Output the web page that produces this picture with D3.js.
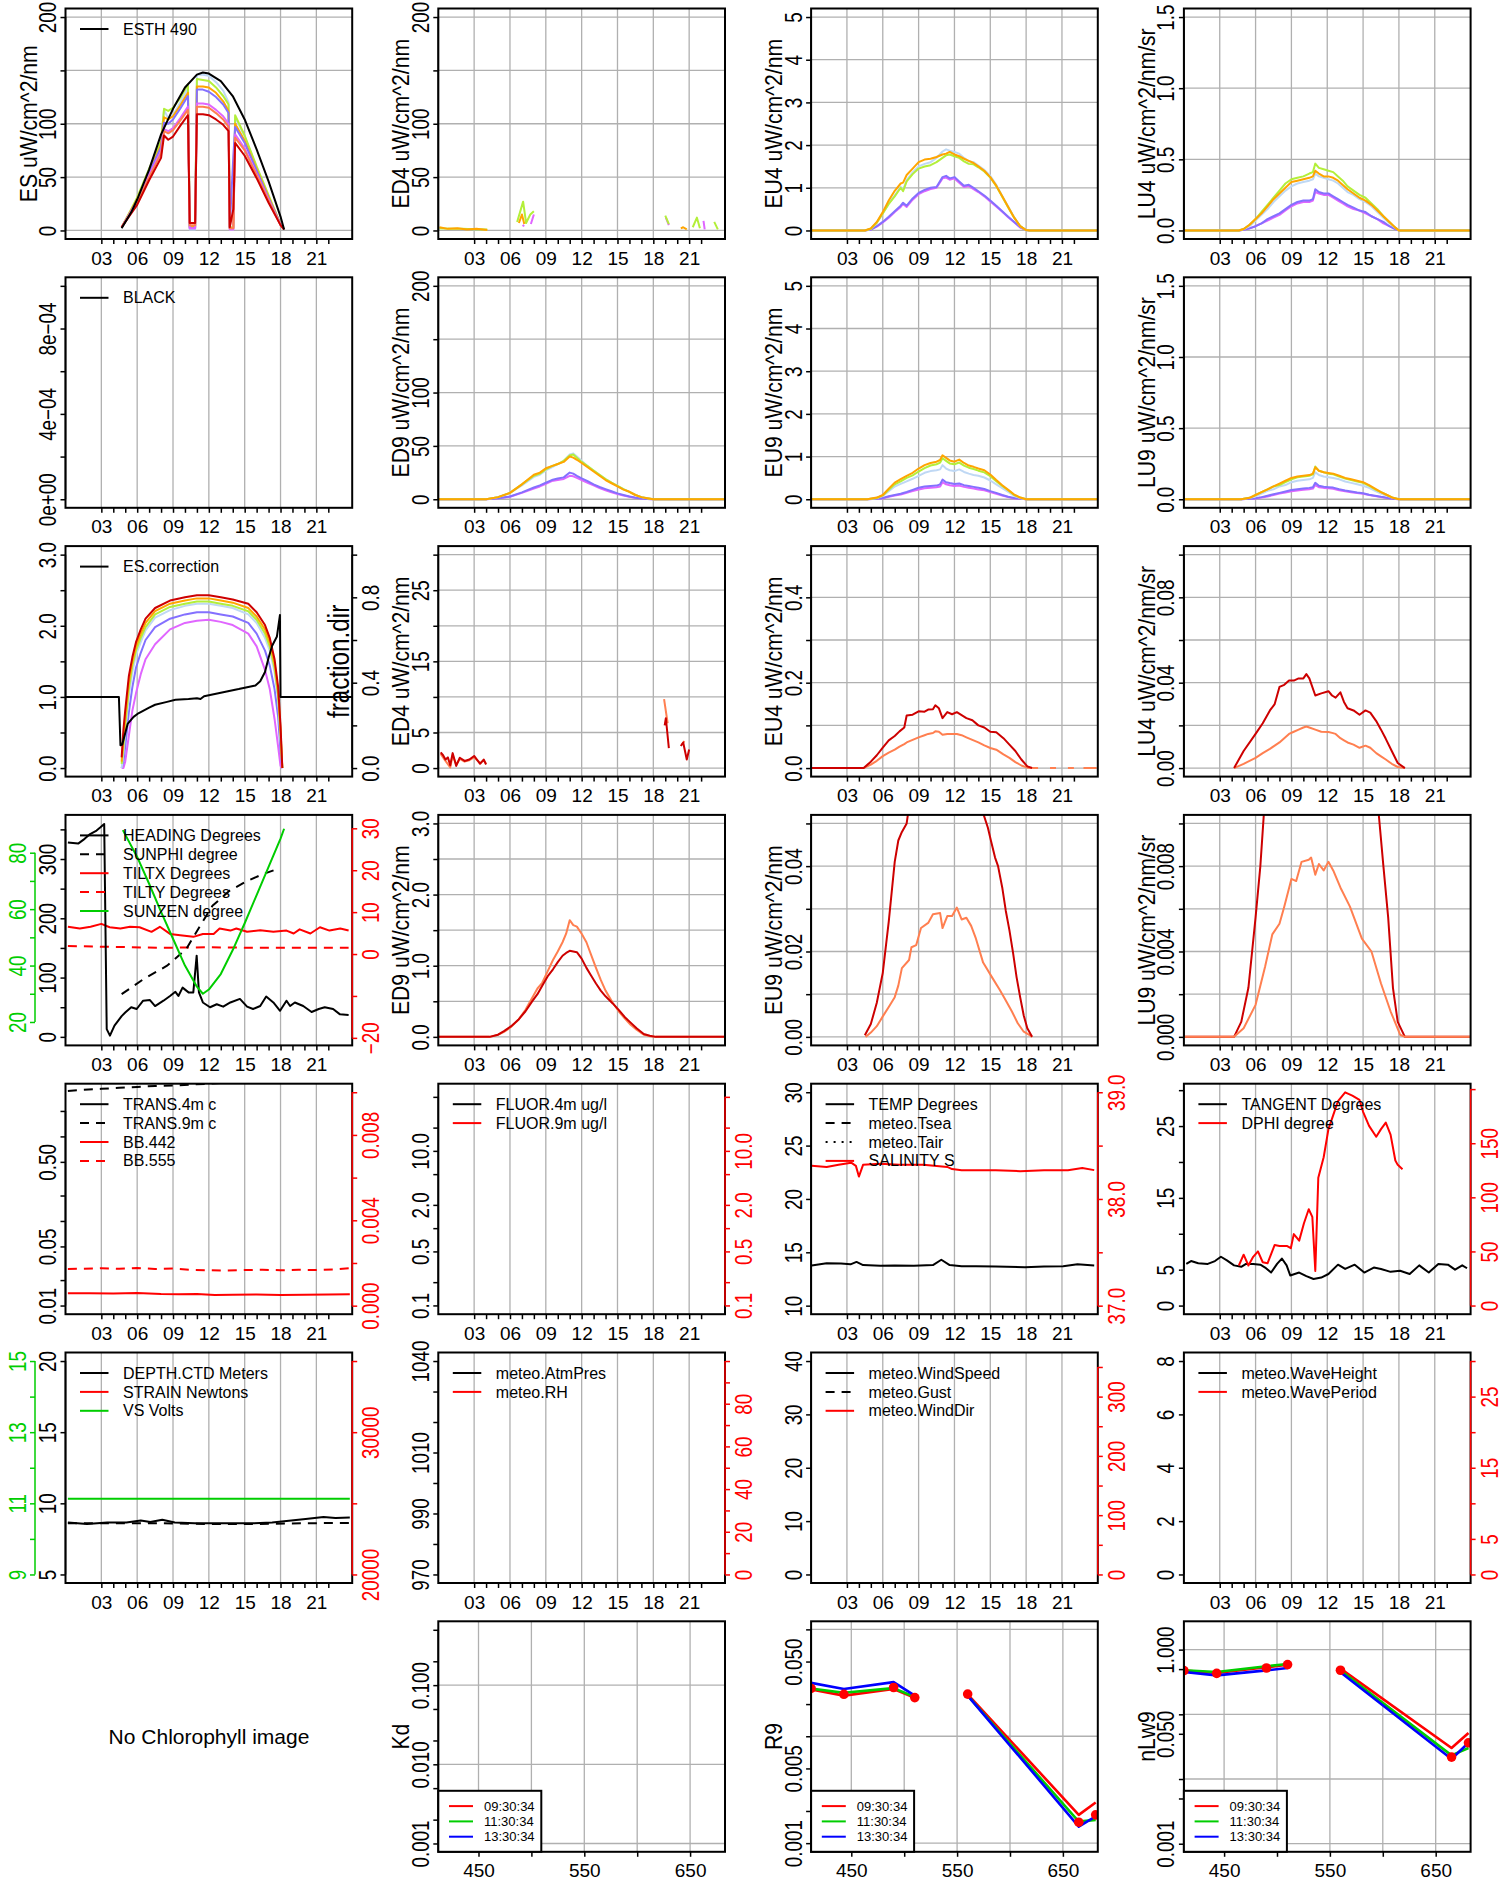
<!DOCTYPE html>
<html><head><meta charset="utf-8">
<script src="https://cdn.jsdelivr.net/npm/d3@7"></script>
<style>
html,body{margin:0;padding:0;background:#fff;}
svg{display:block;font-family:"Liberation Sans",Arial,Helvetica,sans-serif;}
</style></head><body>
<svg id="c" width="1510" height="1882"></svg>
<script>
// ---------------- axis tick values / labels ----------------
const timeDomain = [0, 24];
const timeTicks = [3,4,5,6,7,8,9,10,11,12,13,14,15,16,17,18,19,20,21,22];
const timeTickLabels = ['03','','','06','','','09','','','12','','','15','','','18','','','21',''];
const timeGrid = [3,6,9,12,15,18,21];
const wlDomain = [412, 683];
const wlTicks = [450,500,550,600,650];
const wlTickLabels = ['450','','550','','650'];
const wlGrid = [450,500,550,600,650];

const es200Ticks = [0,50,100,150,200];
const es200Labels = ['0','50','100','','200'];
const e5Ticks = [0,1,2,3,4,5];
const e5Labels = ['0','1','2','3','4','5'];
const l15Ticks = [0,0.5,1,1.5];
const l15Labels = ['0.0','0.5','1.0','1.5'];
const blackTicks = [0,0.0002,0.0004,0.0006,0.0008,0.001];
const blackLabels = ['0e+00','','4e\u221204','','8e\u221204',''];
const corrTicks = [0,0.5,1,1.5,2,2.5,3];
const corrLabels = ['0.0','','1.0','','2.0','','3.0'];
const fdirTicks = [0,0.2,0.4,0.6,0.8,1.0];
const fdirLabels = ['0.0','','0.4','','0.8',''];
const ed4bTicks = [0,5,10,15,20,25,30];
const ed4bLabels = ['0','5','','15','','25',''];
const eu4bTicks = [0,0.1,0.2,0.3,0.4,0.5];
const eu4bLabels = ['0.0','','0.2','','0.4',''];
const lu4bTicks = [0,0.02,0.04,0.06,0.08,0.1];
const lu4bLabels = ['0.00','','0.04','','0.08',''];
const headTicks = [0,50,100,150,200,250,300,350];
const headLabels = ['0','','100','','200','','300',''];
const tiltTicks = [-20,-10,0,10,20,30];
const tiltLabels = ['\u221220','','0','10','20','30'];
const zenTicks = [20,30,40,50,60,70,80];
const zenLabels = ['20','','40','','60','','80'];
const ed9bTicks = [0,0.5,1,1.5,2,2.5,3];
const ed9bLabels = ['0.0','','1.0','','2.0','','3.0'];
const eu9bTicks = [0,0.01,0.02,0.03,0.04,0.05];
const eu9bLabels = ['0.00','','0.02','','0.04',''];
const lu9bTicks = [0,0.002,0.004,0.006,0.008,0.01];
const lu9bLabels = ['0.000','','0.004','','0.008',''];
const transTicks = [0.01,0.02,0.05,0.1,0.2,0.5,1,2];
const transLabels = ['0.01','','0.05','','','0.50','',''];
const bbTicks = [0,0.002,0.004,0.006,0.008,0.01];
const bbLabels = ['0.000','','0.004','','0.008',''];
const fluorTicks = [0.1,0.2,0.5,1,2,5,10,20,50];
const fluorLabels = ['0.1','','0.5','','2.0','','10.0','',''];
const tempTicks = [10,15,20,25,30];
const tempLabels = ['10','15','20','25','30'];
const salTicks = [37,37.5,38,38.5,39];
const salLabels = ['37.0','','38.0','','39.0'];
const tangTicks = [0,5,10,15,20,25,30];
const tangLabels = ['0','5','','15','','25',''];
const dphiTicks = [0,50,100,150,200];
const dphiLabels = ['0','50','100','150',''];
const depthTicks = [5,10,15,20];
const depthLabels = ['5','10','15','20'];
const vsTicks = [9,10,11,12,13,14,15];
const vsLabels = ['9','','11','','13','','15'];
const strainTicks = [20000,25000,30000,35000];
const strainLabels = ['20000','','30000',''];
const presTicks = [970,980,990,1000,1010,1020,1030,1040];
const presLabels = ['970','','990','','1010','','','1040'];
const rhTicks = [0,10,20,30,40,50,60,70,80,90,100];
const rhLabels = ['0','','20','','40','','60','','80','',''];
const windTicks = [0,10,20,30,40];
const windLabels = ['0','10','20','30','40'];
const wdirTicks = [0,50,100,150,200,250,300,350];
const wdirLabels = ['0','','100','','200','','300',''];
const waveTicks = [0,2,4,6,8];
const waveLabels = ['0','2','4','6','8'];
const perTicks = [0,5,10,15,20,25,30];
const perLabels = ['0','5','','15','','25',''];
const kdTicks = [0.001,0.002,0.005,0.01,0.02,0.05,0.1,0.2,0.5];
const kdLabels = ['0.001','','','0.010','','','0.100','',''];
const r9Ticks = [0.001,0.002,0.005,0.01,0.02,0.05,0.1];
const r9Labels = ['0.001','','0.005','','','0.050',''];
const nlwTicks = [0.001,0.005,0.01,0.05,0.1,0.5,1];
const nlwLabels = ['0.001','','','0.050','','','1.000'];
const decadeGrid = [0.001,0.01,0.1,1];

// ---------------- series values ----------------
// Row 1: ES
const esT = [4.7,5.5,6,7,8,8.25,8.6,9,9.6,10.25,10.4,10.85,11.0,11.5,12,12.6,13.2,13.65,13.75,14.05,14.2,15,16,17,18,18.3];
const esLightblue = [3,19,30,56,82,113,105,108,120,133,1,1,146,146,145,139,131,120,1,1,106,88,59,32,6,1];
const esGreen = [3,20,31,58,84,114,112,115,124,137,4,4,142,141,140,134,126,118,3,3,108,89,60,33,6,1];
const esOrange = [3,19,29,55,80,106,104,107,117,129,3,3,135,135,134,129,121,112,2,2,100,84,57,31,6,1];
const esSlate = [3,18,28,54,78,101,100,104,114,126,2,2,132,132,130,125,118,110,2,70,97,82,56,30,6,1];
const esViolet = [3,18,27,52,74,95,93,96,105,116,2,2,119,119,118,113,107,100,1,1,90,77,53,29,5,1];
const esCoral = [3,17,26,50,72,93,91,94,103,113,5,5,116,116,115,110,104,97,2,2,87,75,52,28,5,1];
const esRed = [3,16,24,47,68,89,85,88,98,108,7,7,109,109,108,104,99,93,3,20,82,70,49,26,5,1];
const esthT = [4.7,5.5,6,7,8,9,10,11,11.5,12,13,14,15,16,17,18,18.3];
const esthV = [2,17,29,57,90,114,134,146,148,147,140,126,104,76,46,13,1];

// ED4 (4m, row 1)
const ed4GreenT = [0.1,1.0,2.0,3.0,4.1,4.2,6.6,7.1,7.35,7.7,8.0,8.1,19.0,19.3,19.4,21.3,21.65,21.9,22.0,23.1,23.4];
const ed4GreenV = [2,1.5,1.5,1.2,1.0,null,8,27,7,15,18,null,14,6,null,3,12,2,null,8,1];
const ed4OrangeT = [0.1,0.8,1.6,2.4,3.2,4.1,4.2,6.75,7.0,7.2,7.3,20.3,20.5,20.8];
const ed4OrangeV = [3,1.5,2,1,1.5,0.5,null,7,15,6,null,2,3,1];
const ed4VioletT = [7.05,7.2,7.3,7.75,8.0,8.1,19.05,19.3,19.4,22.2,22.3];
const ed4VioletV = [4,5,null,6,15,null,12,5,null,9,1];

// EU4 (row 1)
const eu4T = [0,4.5,5,5.5,6,6.5,7,7.5,7.7,8,8.5,9,9.5,10,10.5,11,11.3,11.6,12,12.4,12.8,13.2,13.6,14,14.5,15,15.5,16,16.5,17,17.5,18,18.3,24];
const eu4Orange = [0,0,0.05,0.2,0.43,0.7,0.93,1.1,1.12,1.3,1.45,1.6,1.66,1.68,1.72,1.78,1.8,1.84,1.78,1.74,1.68,1.63,1.58,1.5,1.4,1.25,1.05,0.8,0.55,0.3,0.1,0.01,0,0];
const eu4Green = [0,0,0.04,0.18,0.4,0.62,0.8,1.0,0.92,1.15,1.32,1.45,1.5,1.53,1.6,1.7,1.76,1.78,1.74,1.7,1.62,1.56,1.55,1.48,1.38,1.24,1.04,0.79,0.54,0.3,0.1,0.01,0,0];
const eu4Lightblue = [0,0,0.04,0.18,0.4,0.63,0.82,1.02,0.95,1.18,1.36,1.5,1.56,1.6,1.7,1.85,1.9,1.87,1.84,1.8,1.7,1.62,1.6,1.52,1.42,1.28,1.07,0.81,0.56,0.31,0.1,0.01,0,0];
const eu4Slate = [0,0,0.02,0.1,0.2,0.32,0.45,0.58,0.65,0.58,0.75,0.88,0.95,1.0,1.02,1.25,1.28,1.22,1.25,1.15,1.05,1.07,1.0,0.92,0.82,0.7,0.58,0.45,0.32,0.2,0.08,0.01,0,0];
const eu4Violet = [0,0,0.02,0.09,0.19,0.3,0.43,0.55,0.62,0.55,0.72,0.85,0.92,0.97,1.0,1.22,1.24,1.19,1.22,1.12,1.02,1.04,0.97,0.9,0.8,0.68,0.56,0.44,0.31,0.19,0.07,0.01,0,0];

// LU4 (row 1)
const lu4T = [0,4.6,5,5.5,6,6.5,7,7.5,8,8.5,9,9.5,10,10.5,10.8,11.0,11.3,11.7,12.1,12.5,12.9,13.3,13.7,14.2,14.7,15.2,15.7,16.2,16.7,17.2,17.7,18.0,24];
const lu4Green = [0,0,0.01,0.04,0.08,0.13,0.18,0.23,0.28,0.33,0.36,0.37,0.38,0.4,0.41,0.47,0.44,0.43,0.42,0.41,0.38,0.35,0.31,0.28,0.25,0.23,0.19,0.15,0.1,0.06,0.02,0,0];
const lu4Orange = [0,0,0.01,0.04,0.08,0.12,0.17,0.22,0.26,0.3,0.34,0.35,0.36,0.37,0.38,0.42,0.4,0.38,0.38,0.37,0.35,0.32,0.29,0.26,0.23,0.21,0.18,0.14,0.1,0.06,0.02,0,0];
const lu4Lightblue = [0,0,0.01,0.03,0.07,0.11,0.15,0.2,0.24,0.28,0.31,0.33,0.34,0.35,0.36,0.4,0.38,0.37,0.36,0.35,0.33,0.3,0.27,0.25,0.22,0.2,0.17,0.13,0.09,0.05,0.02,0,0];
const lu4Slate = [0,0,0.005,0.015,0.03,0.05,0.08,0.1,0.12,0.15,0.18,0.2,0.21,0.21,0.22,0.29,0.27,0.26,0.26,0.24,0.22,0.2,0.18,0.16,0.14,0.13,0.1,0.08,0.06,0.03,0.01,0,0];
const lu4Violet = [0,0,0.005,0.015,0.03,0.05,0.07,0.09,0.11,0.14,0.17,0.19,0.2,0.2,0.21,0.27,0.26,0.25,0.25,0.23,0.21,0.19,0.17,0.15,0.14,0.12,0.1,0.08,0.05,0.03,0.01,0,0];

// Row 2: ED9, EU9, LU9
const ed9T = [0,4,5,6,7,8,8.5,9,9.5,10,10.5,11,11.3,11.6,12,12.5,13,13.5,14,14.5,15,15.5,16,16.5,17,17.5,18,24];
const ed9Orange = [0,0,2,6,14,23,25,29,31,33,35,40,39,37,34,30,26,22,18,15,12,9,7,4,2,1,0,0];
const ed9Green = [0,0,2,6,14,22,24,28,31,33,36,41,42,39,35,31,27,23,19,15.5,12.5,9.5,7,4,2,1,0,0];
const ed9Lightblue = [0,0,2,6,13,21,23,27,30,33,36,42,43,40,36,31,27,23,19,15.5,12.5,9.5,7,4,2,1,0,0];
const ed9Slate = [0,0,1,2.6,6.5,11,13,15.5,18,19.5,20.5,25,24,22,19.5,17,14,11.5,9.5,7.5,5.5,4,2.6,1.5,0.8,0.3,0,0];
const ed9Violet = [0,0,1,2.4,6,10,12,14.5,17,18,19,22,21.5,20,18,15.5,13,10.5,8.5,6.5,5,3.5,2.4,1.4,0.7,0.3,0,0];

const eu9T = [0,4.7,5.5,6,6.5,7,7.5,8,8.5,9,9.5,10,10.5,10.8,11.0,11.3,11.6,12,12.4,12.8,13.2,13.6,14,14.5,15,15.5,16,16.5,17,17.5,18,24];
const eu9Orange = [0,0,0.04,0.1,0.25,0.39,0.47,0.55,0.62,0.72,0.8,0.85,0.88,0.92,1.03,0.97,0.91,0.88,0.93,0.85,0.79,0.76,0.72,0.68,0.58,0.45,0.33,0.22,0.11,0.04,0,0];
const eu9Green = [0,0,0.03,0.09,0.22,0.35,0.42,0.5,0.56,0.65,0.73,0.79,0.82,0.86,0.96,0.9,0.84,0.82,0.86,0.79,0.74,0.71,0.67,0.63,0.54,0.42,0.31,0.21,0.1,0.04,0,0];
const eu9Lightblue = [0,0,0.03,0.08,0.19,0.3,0.36,0.42,0.48,0.55,0.62,0.66,0.68,0.7,0.8,0.72,0.68,0.66,0.7,0.64,0.6,0.57,0.55,0.51,0.44,0.35,0.26,0.17,0.08,0.03,0,0];
const eu9Slate = [0,0,0.01,0.03,0.07,0.1,0.13,0.17,0.22,0.27,0.3,0.31,0.32,0.35,0.46,0.4,0.38,0.36,0.37,0.33,0.31,0.29,0.27,0.24,0.19,0.15,0.1,0.06,0.03,0.01,0,0];
const eu9Violet = [0,0,0.01,0.02,0.06,0.09,0.11,0.15,0.19,0.23,0.26,0.27,0.28,0.3,0.4,0.35,0.33,0.31,0.32,0.29,0.27,0.25,0.23,0.21,0.17,0.13,0.09,0.05,0.02,0.01,0,0];

const lu9T = [0,4.8,5.5,6,6.5,7,7.5,8,8.5,9,9.5,10,10.5,10.8,11.0,11.3,11.7,12.1,12.5,13,13.5,14,14.5,15,15.5,16,16.5,17,17.5,18,24];
const lu9Orange = [0,0,0.01,0.03,0.05,0.07,0.09,0.11,0.13,0.15,0.16,0.165,0.17,0.18,0.225,0.2,0.19,0.185,0.18,0.165,0.15,0.14,0.13,0.12,0.1,0.075,0.05,0.03,0.01,0,0];
const lu9Green = [0,0,0.01,0.03,0.05,0.07,0.09,0.1,0.12,0.14,0.155,0.16,0.165,0.175,0.23,0.2,0.19,0.18,0.175,0.16,0.145,0.135,0.125,0.115,0.095,0.07,0.05,0.03,0.01,0,0];
const lu9Lightblue = [0,0,0.01,0.02,0.04,0.06,0.07,0.09,0.1,0.12,0.13,0.135,0.14,0.15,0.19,0.17,0.16,0.155,0.15,0.14,0.125,0.115,0.105,0.095,0.08,0.06,0.04,0.025,0.01,0,0];
const lu9Slate = [0,0,0.003,0.007,0.015,0.025,0.035,0.045,0.055,0.065,0.07,0.075,0.08,0.085,0.116,0.095,0.088,0.085,0.082,0.07,0.062,0.055,0.048,0.042,0.032,0.025,0.017,0.01,0.004,0,0];
const lu9Violet = [0,0,0.003,0.006,0.012,0.02,0.03,0.04,0.048,0.056,0.062,0.066,0.07,0.075,0.1,0.085,0.08,0.077,0.074,0.064,0.056,0.05,0.044,0.038,0.03,0.022,0.015,0.009,0.004,0,0];

// Row 3: ES.correction and fraction.dir
const escorrT = [0,4.47,4.6,4.75,5.2,5.7,6.1,7.0,7.5,8.5,9.2,10.3,11.0,11.3,11.6,12.5,13.6,14.5,15.3,15.9,16.3,16.7,17.0,17.3,17.7,17.95,18.0,24];
const escorrV = [1.0,1.0,0.32,0.33,0.62,0.72,0.77,0.85,0.89,0.93,0.96,0.97,0.98,0.97,1.01,1.04,1.08,1.11,1.14,1.16,1.22,1.35,1.55,1.72,1.85,2.15,1.0,1.0];
const fdT = [4.7,4.85,5.0,5.3,5.6,5.9,6.3,6.7,7.5,8.75,10,11,12,13,14,15.3,16,16.7,17.1,17.5,17.8,18.0,18.15];
const fdRed = [0.05,0.18,0.27,0.43,0.52,0.59,0.65,0.70,0.75,0.785,0.80,0.81,0.81,0.80,0.79,0.77,0.73,0.67,0.61,0.51,0.38,0.2,0.0];
const fdOrange = [0.03,0.14,0.24,0.40,0.50,0.57,0.63,0.68,0.735,0.77,0.785,0.795,0.795,0.785,0.775,0.75,0.71,0.65,0.59,0.49,0.36,0.18,0.0];
const fdGreen = [0.02,0.1,0.2,0.37,0.48,0.55,0.61,0.66,0.72,0.755,0.77,0.78,0.78,0.77,0.76,0.735,0.695,0.63,0.57,0.47,0.34,0.16,0.0];
const fdLightblue = [0.0,0.07,0.17,0.34,0.45,0.53,0.59,0.645,0.705,0.74,0.76,0.77,0.77,0.76,0.75,0.72,0.68,0.61,0.55,0.45,0.32,0.14,0.0];
const fdSlate = [0.0,0.03,0.1,0.26,0.38,0.47,0.54,0.6,0.66,0.7,0.72,0.73,0.73,0.72,0.71,0.68,0.63,0.55,0.48,0.37,0.24,0.08,0.0];
const fdViolet = [0.0,0.0,0.03,0.15,0.27,0.35,0.44,0.51,0.58,0.65,0.68,0.69,0.695,0.685,0.67,0.63,0.57,0.46,0.37,0.23,0.1,0.01,0.0];

// Row 3: ED4 / EU4 / LU4 (9m)
const ed4bRedT = [0.2,0.4,0.6,0.8,1.0,1.2,1.5,1.8,2.2,2.6,3.0,3.5,3.8,4.0,4.1,18.95,19.05,19.3,19.4,20.3,20.5,20.8,21.0];
const ed4bRedV = [2.2,1.8,1.2,1.5,0.4,2.1,0.3,1.45,1.0,1.2,1.7,0.6,1.2,0.5,null,6.0,7.0,2.8,null,3.1,3.6,1.2,2.6];
const ed4bCoralT = [0.2,0.6,1.0,1.2,1.5,1.8,2.2,2.6,3.0,3.5,3.8,4.0,4.1,18.9,19.2,19.3,20.4,20.6];
const ed4bCoralV = [2.0,1.0,0.1,1.8,0.5,1.3,0.9,1.1,1.5,0.7,1.1,0.6,null,9.7,6.3,null,3.3,3.8];

const eu4bT = [0,4.4,5,5.5,6,6.5,7,7.4,7.8,8.0,8.5,9.0,9.5,9.8,10.2,10.4,10.7,11.0,11.4,11.8,12.2,12.6,13.0,13.5,14.0,14.5,15.0,15.5,16.1,16.6,17.1,17.6,18.1,18.5];
const eu4bRed = [0,0,0.015,0.03,0.048,0.065,0.075,0.086,0.095,0.123,0.125,0.133,0.132,0.137,0.138,0.147,0.14,0.117,0.131,0.126,0.131,0.124,0.117,0.112,0.10,0.095,0.085,0.084,0.07,0.055,0.04,0.02,0.004,0];
const eu4bCoral = [0,0,0.008,0.017,0.028,0.036,0.043,0.05,0.056,0.06,0.066,0.072,0.077,0.08,0.082,0.086,0.085,0.078,0.08,0.08,0.08,0.077,0.072,0.066,0.06,0.053,0.047,0.043,0.032,0.024,0.014,0.006,0.001,0];
const eu4bTailT = [18.5,19.0,19.1,20.0,20.5,20.6,21.5,22.0,22.1,22.8,23.9];
const eu4bTailV = [0,0,null,0,0,null,0,0,null,0,0];

const lu4bT = [4.2,5.0,6.0,6.6,7.2,7.6,8.0,8.4,8.8,9.2,9.6,10.0,10.25,10.5,11.0,11.5,12.1,12.4,12.7,13.1,13.4,13.7,14.2,14.7,15.2,15.6,16.1,16.5,16.9,17.4,17.9,18.5];
const lu4bRed = [0,0.008,0.016,0.021,0.027,0.03,0.038,0.039,0.041,0.041,0.042,0.042,0.044,0.042,0.034,0.035,0.036,0.034,0.033,0.0355,0.031,0.028,0.027,0.025,0.027,0.026,0.022,0.018,0.0137,0.008,0.0024,0];
const lu4bCoral = [0,0.002,0.0048,0.007,0.009,0.0105,0.012,0.014,0.016,0.017,0.018,0.019,0.0195,0.019,0.018,0.017,0.0169,0.0165,0.016,0.014,0.013,0.012,0.011,0.0095,0.0105,0.0095,0.007,0.0055,0.004,0.002,0.0005,0];

// Row 4: attitude
const headingT = [0.2,1.06,1.6,2.06,2.6,2.9,3.24,3.45,3.72,4.1,4.7,5.0,5.5,5.96,6.5,7.07,7.5,8.2,8.75,9.2,9.45,9.8,10.3,10.7,10.98,11.17,11.5,12.1,12.66,13.2,13.8,14.6,15.2,15.7,16.3,16.8,17.4,17.96,18.5,18.8,19.2,19.9,20.6,21.2,21.7,22.4,22.98,23.7];
const headingV = [328,326,334,342,348,353,359,13,2,19,35,41,50,47,61,62,52,61,69,76,69,83,75,75,137,75,58,50,55,51,58,64,51,47,52,68,58,44,61,52,58,52,42,47,50,47,38,37];
const sunphiT = [4.7,6.5,8.5,10.1,11.2,12.3,13.7,15.2,16.6,17.7];
const sunphiV = [72,97,120,148,185,221,246,263,275,283];
const tiltxT = [0.2,1.2,2.1,3.0,3.7,4.6,5.4,6.2,7.2,7.9,8.75,9.6,10.7,11.5,12.4,12.9,13.8,14.3,15.2,16.3,17.4,18.5,19.1,19.6,20.5,21.3,22.1,23.0,23.7];
const tiltxV = [6.5,6.1,6.5,7.2,6.4,6.1,6.5,6.4,5.3,6.5,4.8,4.5,4.1,4.8,4.8,6.1,5.6,6.1,5.3,5.7,5.3,5.6,4.9,5.9,4.9,6.4,5.6,6.1,5.6];
const tiltyT = [0.2,4.0,8.0,12.0,16.0,20.0,23.7];
const tiltyV = [1.9,1.7,1.5,1.6,1.5,1.5,1.5];
const sunzenT = [4.8,6,7,8,9,10,11,11.5,12,13,14,15,16,17,18,18.3];
const sunzenV = [88,78.5,69,59,49.5,40,32.5,30,31.5,37,45.5,55,65,75,85,88.5];

// Row 4: ED9 / EU9 / LU9 (9m)
const ed9bT = [0,4.3,5.0,5.5,6.1,6.7,7.3,7.9,8.3,8.7,9.15,9.6,10.0,10.4,10.7,11.0,11.3,11.6,12.0,12.4,12.8,13.2,13.6,14.0,14.6,15.1,15.6,16.1,16.6,17.2,17.7,18.2,24];
const ed9bCoral = [0,0,0.03,0.07,0.14,0.24,0.38,0.56,0.68,0.76,0.92,1.08,1.2,1.33,1.45,1.64,1.57,1.55,1.45,1.33,1.15,0.97,0.8,0.65,0.48,0.36,0.26,0.17,0.1,0.03,0.01,0,0];
const ed9bRed = [0,0,0.03,0.08,0.15,0.24,0.36,0.51,0.6,0.72,0.85,0.95,1.05,1.14,1.18,1.21,1.2,1.19,1.1,0.97,0.86,0.75,0.65,0.57,0.47,0.38,0.28,0.2,0.12,0.04,0.015,0,0];
const eu9bRedT = [4.5,5.0,5.5,6.0,6.5,7.0,7.3,7.6,8.0,8.1,9,10,11,12,13,14,14.45,14.8,15.05,15.4,15.65,16.0,16.3,16.6,16.9,17.2,17.5,17.8,18.1,18.5];
const eu9bRedV = [0.0004,0.003,0.008,0.015,0.027,0.041,0.046,0.048,0.050,0.052,0.07,0.085,0.09,0.088,0.075,0.06,0.052,0.049,0.046,0.042,0.040,0.035,0.0295,0.025,0.0198,0.014,0.0093,0.005,0.002,0];
const eu9bCoralT = [4.56,5.0,5.5,6.0,6.5,7.0,7.3,7.6,8.2,8.4,8.8,9.2,9.8,10.2,10.8,11.0,11.4,11.8,12.2,12.6,13.0,13.4,13.8,14.4,15.2,15.8,16.3,16.8,17.3,17.8,18.3,18.5];
const eu9bCoralV = [0,0.001,0.0025,0.0048,0.007,0.0093,0.012,0.0161,0.018,0.021,0.0215,0.0255,0.0267,0.0287,0.029,0.0255,0.0283,0.0283,0.0303,0.0275,0.0279,0.026,0.023,0.0174,0.0137,0.011,0.0085,0.006,0.0032,0.0012,0.0004,0];
const lu9bRedT = [0,4.2,4.8,5.4,6.0,6.4,6.7,7.5,9,11,13,15,16.0,16.3,16.7,17.1,17.5,17.9,18.5,24];
const lu9bRedV = [0,0,0.0007,0.0023,0.0056,0.008,0.0105,0.02,0.03,0.04,0.035,0.02,0.012,0.0105,0.008,0.0056,0.0023,0.0007,0,0];
const lu9bCoralT = [0,4.2,5.0,6.0,6.8,7.4,8.0,8.4,9.0,9.4,9.85,10.45,10.65,11.0,11.3,11.7,12.1,12.5,13.1,13.9,14.9,15.7,16.5,17.3,18.1,18.5,24];
const lu9bCoralV = [0,0,0.0004,0.0015,0.0033,0.0048,0.0053,0.0061,0.0074,0.0073,0.0082,0.0083,0.0084,0.0076,0.0081,0.0078,0.0082,0.0078,0.007,0.0061,0.0046,0.004,0.0025,0.0012,0.0001,0,0];

// Row 5
const trans9T = [0.2,1.5,3.0,4.5,6.0,7.5,9.0,10.5,12.0,16.0,20.0,24.0];
const trans9V = [3.45,3.55,3.65,3.75,3.85,3.95,4.0,4.1,4.2,4.5,4.6,4.7];
const bb442T = [0.2,2.0,4.0,6.0,8.0,9.5,11.0,12.5,14.0,16.0,18.0,20.0,22.0,23.8];
const bb442V = [0.00058,0.00058,0.00057,0.00059,0.00055,0.00054,0.00055,0.00050,0.00051,0.00052,0.00050,0.00051,0.00052,0.00054];
const bb555T = [0.2,1.5,3.0,4.5,6.0,7.5,9.0,10.5,12.0,13.5,15.0,16.5,18.0,19.5,21.0,22.5,23.8];
const bb555V = [0.00172,0.00173,0.00175,0.00173,0.00176,0.00172,0.00174,0.00168,0.00166,0.00165,0.00167,0.00168,0.00166,0.00168,0.00167,0.0017,0.00176];
const tempT = [0.05,1.3,2.5,3.3,3.8,4.35,5.8,7.0,8.6,10.2,10.9,11.6,12.6,13.8,15.45,17.9,19.5,21.1,22.3,23.7];
const tempV = [13.77,13.97,13.94,13.87,14.1,13.8,13.74,13.77,13.74,13.8,14.3,13.8,13.7,13.7,13.68,13.6,13.68,13.7,13.87,13.77];
const salT = [0.05,1.3,2.3,3.35,3.75,4.0,4.35,5.8,7.4,9.4,11.4,11.8,12.6,13.8,15.45,17.5,19.5,21.5,22.7,23.7];
const salV = [38.31,38.3,38.32,38.34,38.31,38.21,38.32,38.33,38.32,38.32,38.3,38.28,38.27,38.27,38.27,38.26,38.27,38.27,38.29,38.27];
const tangT = [0.2,0.6,1.2,2.0,2.6,3.1,3.6,4.2,4.8,5.2,5.8,6.4,6.8,7.3,7.8,8.2,8.6,8.9,9.65,10.25,10.85,11.5,12.1,12.9,13.5,14.3,15.1,15.9,16.5,17.3,18.1,18.9,19.7,20.5,21.3,22.1,22.7,23.3,23.7];
const tangV = [5.8,6.2,5.9,5.8,6.2,6.8,6.3,5.6,5.4,5.8,5.8,5.7,5.3,4.6,5.8,6.55,5.6,4.2,4.6,4.1,3.7,3.9,4.4,5.7,5.1,5.7,4.6,5.3,5.1,4.7,4.85,4.4,5.6,4.6,5.8,5.7,5.0,5.6,5.2];
const dphiT = [4.6,5.0,5.4,5.8,6.2,6.6,7.0,7.6,8.0,8.65,8.95,9.2,9.65,10.05,10.45,10.75,11.0,11.25,11.7,12.1,12.5,12.9,13.5,14.1,14.7,15.0,15.5,16.1,16.5,16.9,17.3,17.7,17.9,18.3];
const dphiV = [37,47,37,45,50,40,39,56,55,55,53,66,60,76,89,82,32,118,137,163,176,189,197,194,190,179,166,156,163,169,158,134,130,126];

// Row 6
const depthT = [0.2,1.8,3.5,5.1,6.3,7.1,8.1,9.15,10.8,12.4,14.0,15.7,17.3,18.9,20.1,21.6,22.6,23.8];
const depthV = [8.65,8.55,8.65,8.65,8.8,8.68,8.85,8.65,8.6,8.6,8.6,8.6,8.65,8.8,8.9,9.04,8.97,9.0];
const depth2T = [0.2,4.0,8.0,12.0,16.0,20.0,23.8];
const depth2V = [8.6,8.6,8.6,8.55,8.55,8.6,8.62];
const vsT = [0.2,12.0,23.8];
const vsV = [11.13,11.13,11.13];

// Row 7: spectra
const wlBands = [412,443,490,510,531,560,665,681];
const r9Red = [0.0274,0.024,0.0277,0.0229,null,0.0247,0.00184,0.0024];
const r9Green = [0.0279,0.0255,0.0282,0.0233,null,0.024,0.00159,0.00165];
const r9Blue = [0.0316,0.0277,0.0321,0.024,null,0.024,0.00143,0.00178];
const r9Dots = [0.028,0.0247,0.0286,0.023,null,0.0248,0.00157,0.00184];
const nlwRed = [0.473,0.436,0.533,0.587,null,0.508,0.0302,0.0516];
const nlwGreen = [0.48,0.452,0.552,0.60,null,0.473,0.0232,0.0302];
const nlwBlue = [0.452,0.40,0.478,0.521,null,0.446,0.0204,0.0363];
const nlwDots = [0.473,0.43,0.52,0.587,null,0.48,0.0218,0.0363];
const timeStamps = ['09:30:34','11:30:34','13:30:34'];

// ---------------- drawing ----------------
const COL = {lightblue:'#bfd8f4', green:'#b3ef3a', orange:'#ffa500', slate:'#8470ff', violet:'#e066ff',
  coral:'#ff7f50', red3:'#cd0000', red:'#ff0000', green3:'#00cd00', blue:'#0000ff', black:'#000000'};
const svg = d3.select('#c');
svg.append('rect').attr('width',1510).attr('height',1882).attr('fill','#fff');
const PW = 286.7, PH = 230.5;
const colX = c => 65.5 + c*372.8;
const rowY = r => 8.5 + r*268.8;
const FS_TICK = 23, NARROW = 0.82, FS_X = 19, FS_TITLE = 23, N_TITLE = 0.92, FS_LEG = 16;
const GRID = '#b0b0b0';
const DASH = '9,7';
const pts = (xs, ys) => xs.map((x,i) => [x, ys[i]]);
let clipN = 0;

function yAxis(g, scale, ticks, labels, side, color, xoff){
  const ax = (side === 'left' ? d3.axisLeft(scale) : d3.axisRight(scale))
    .tickValues(ticks).tickSizeInner(5).tickSizeOuter(0).tickFormat((d,i) => labels[i]);
  const a = g.append('g').attr('transform', `translate(${xoff},0)`).call(ax)
    .attr('font-size', null).attr('font-family', null);
  a.select('.domain').attr('d', `M0,${scale(ticks[0])}V${scale(ticks[ticks.length-1])}`)
    .attr('stroke', color).attr('stroke-width', 1.5);
  a.selectAll('.tick line').attr('stroke', color).attr('stroke-width', 1.5);
  a.selectAll('.tick text').attr('x', 0).attr('dy', null).attr('y', side === 'left' ? -9.5 : 27)
    .attr('text-anchor', 'middle').attr('transform', `rotate(-90) scale(${NARROW},1)`)
    .attr('fill', color).style('font-size', FS_TICK + 'px');
}
function xAxis(g, scale, ticks, labels){
  const a = g.append('g').attr('transform', `translate(0,${PH})`)
    .call(d3.axisBottom(scale).tickValues(ticks).tickSizeInner(5).tickSizeOuter(0).tickFormat((d,i) => labels[i]))
    .attr('font-size', null).attr('font-family', null);
  a.select('.domain').remove();
  a.selectAll('.tick line').attr('stroke', '#000').attr('stroke-width', 1.5);
  a.selectAll('.tick text').attr('y', 25.5).attr('dy', null).attr('fill', '#000').style('font-size', FS_X + 'px');
}
function legend(g, items){
  items.forEach((it, i) => {
    const y = 20.5 + i*18.9;
    g.append('line').attr('x1', 14.5).attr('x2', 43).attr('y1', y).attr('y2', y)
      .attr('stroke', it.color).attr('stroke-width', 2).attr('stroke-dasharray', it.dash || null);
    g.append('text').attr('x', 57.5).attr('y', y).attr('dy', '0.35em').style('font-size', FS_LEG + 'px').text(it.label);
  });
}
function boxLegend(g, labels, colors){
  g.append('rect').attr('x', 0).attr('y', PH - 61).attr('width', 103).attr('height', 61)
    .attr('fill', '#fff').attr('stroke', '#000').attr('stroke-width', 2);
  labels.forEach((l, i) => {
    const y = PH - 45.7 + i*15.3;
    g.append('line').attr('x1', 10.7).attr('x2', 34.7).attr('y1', y).attr('y2', y).attr('stroke', colors[i]).attr('stroke-width', 2);
    g.append('text').attr('x', 45.7).attr('y', y).attr('dy', '0.35em').style('font-size', '13px').text(l);
  });
}

function panel(o){
  const g = svg.append('g').attr('transform', `translate(${colX(o.c)},${rowY(o.r)})`);
  const xs = d3.scaleLinear().domain(o.wl ? wlDomain : timeDomain).range([0, PW]);
  const mk = ax => ax ? (ax.log ? d3.scaleLog() : d3.scaleLinear()).domain(ax.domain).range([PH, 0]) : null;
  const sc = {left: mk(o.left), right: mk(o.right), green: mk(o.green)};
  // grid
  g.append('g').selectAll('line').data(o.wl ? wlGrid : timeGrid).join('line')
    .attr('x1', d => xs(d)).attr('x2', d => xs(d)).attr('y1', 0).attr('y2', PH)
    .attr('stroke', GRID).attr('stroke-width', 1.3);
  if (o.left.grid) g.append('g').selectAll('line').data(o.left.grid).join('line')
    .attr('x1', 0).attr('x2', PW).attr('y1', d => sc.left(d)).attr('y2', d => sc.left(d))
    .attr('stroke', GRID).attr('stroke-width', 1.3);
  // data
  const id = 'clip' + (clipN++);
  g.append('clipPath').attr('id', id).append('rect').attr('width', PW).attr('height', PH);
  const dg = g.append('g').attr('clip-path', `url(#${id})`);
  (o.series || []).forEach(s => {
    const ys = sc[s.axis || 'left'];
    const line = d3.line().defined(d => d[1] != null).x(d => xs(d[0])).y(d => ys(d[1]));
    if (!s.dotsOnly) dg.append('path').attr('d', line(s.data)).attr('fill', 'none').attr('stroke', s.color)
      .attr('stroke-width', s.w || 2).attr('stroke-dasharray', s.dash || null).attr('stroke-linejoin', 'round');
    if (s.dots) dg.append('g').selectAll('circle').data(s.data.filter(d => d[1] != null)).join('circle')
      .attr('cx', d => xs(d[0])).attr('cy', d => ys(d[1])).attr('r', 4.8).attr('fill', s.color);
  });
  // frame
  g.append('rect').attr('width', PW).attr('height', PH).attr('fill', 'none').attr('stroke', '#000').attr('stroke-width', 2);
  // axes
  xAxis(g, xs, o.wl ? wlTicks : timeTicks, o.wl ? wlTickLabels : timeTickLabels);
  yAxis(g, sc.left, o.left.ticks, o.left.labels, 'left', o.left.color || '#000', 0);
  if (o.right) yAxis(g, sc.right, o.right.ticks, o.right.labels, 'right', o.right.color || '#000', PW);
  if (o.green) yAxis(g, sc.green, o.green.ticks, o.green.labels, 'left', COL.green3, 35 - colX(0));
  if (o.title) g.append('text').attr('transform', `translate(-29,${PH/2}) rotate(-90) scale(${N_TITLE},1)`)
    .attr('text-anchor', 'middle').style('font-size', FS_TITLE + 'px').text(o.title);
  if (o.rightTitle) g.append('text').attr('transform', `translate(${PW - 3},${PH/2}) rotate(-90) scale(0.81,1)`)
    .attr('text-anchor', 'middle').style('font-size', '30px').text(o.rightTitle);
  if (o.legend) legend(g, o.legend);
  if (o.boxLegend) boxLegend(g, timeStamps, [COL.red, COL.green3, COL.blue]);
}

const five = (t, a, b, c, d, e) => [
  {data: pts(t, e), color: COL.violet}, {data: pts(t, d), color: COL.slate},
  {data: pts(t, a), color: COL.lightblue}, {data: pts(t, b), color: COL.green},
  {data: pts(t, c), color: COL.orange}];

// Row 1
panel({r:0, c:0, title:'ES uW/cm^2/nm',
  left:{domain:[-8,208], ticks:es200Ticks, labels:es200Labels, grid:es200Ticks},
  series:[
    {data:pts(esT, esLightblue), color:COL.lightblue}, {data:pts(esT, esGreen), color:COL.green},
    {data:pts(esT, esOrange), color:COL.orange}, {data:pts(esT, esSlate), color:COL.slate},
    {data:pts(esT, esViolet), color:COL.violet}, {data:pts(esT, esCoral), color:COL.coral},
    {data:pts(esT, esRed), color:COL.red3}, {data:pts(esthT, esthV), color:COL.black}],
  legend:[{label:'ESTH 490', color:'#000'}]});
panel({r:0, c:1, title:'ED4 uW/cm^2/nm',
  left:{domain:[-8,208], ticks:es200Ticks, labels:es200Labels, grid:es200Ticks},
  series:[{data:pts(ed4VioletT, ed4VioletV), color:COL.violet}, {data:pts(ed4GreenT, ed4GreenV), color:COL.green},
    {data:pts(ed4OrangeT, ed4OrangeV), color:COL.orange}]});
panel({r:0, c:2, title:'EU4 uW/cm^2/nm',
  left:{domain:[-0.2,5.2], ticks:e5Ticks, labels:e5Labels, grid:e5Ticks},
  series:five(eu4T, eu4Lightblue, eu4Green, eu4Orange, eu4Slate, eu4Violet)});
panel({r:0, c:3, title:'LU4 uW/cm^2/nm/sr',
  left:{domain:[-0.06,1.56], ticks:l15Ticks, labels:l15Labels, grid:l15Ticks},
  series:five(lu4T, lu4Lightblue, lu4Green, lu4Orange, lu4Slate, lu4Violet)});

// Row 2
panel({r:1, c:0,
  left:{domain:[-0.00004,0.00104], ticks:blackTicks, labels:blackLabels},
  series:[], legend:[{label:'BLACK', color:'#000'}]});
panel({r:1, c:1, title:'ED9 uW/cm^2/nm',
  left:{domain:[-8,208], ticks:es200Ticks, labels:es200Labels, grid:es200Ticks},
  series:five(ed9T, ed9Lightblue, ed9Green, ed9Orange, ed9Slate, ed9Violet)});
panel({r:1, c:2, title:'EU9 uW/cm^2/nm',
  left:{domain:[-0.2,5.2], ticks:e5Ticks, labels:e5Labels, grid:e5Ticks},
  series:five(eu9T, eu9Lightblue, eu9Green, eu9Orange, eu9Slate, eu9Violet)});
panel({r:1, c:3, title:'LU9 uW/cm^2/nm/sr',
  left:{domain:[-0.06,1.56], ticks:l15Ticks, labels:l15Labels, grid:l15Ticks},
  series:five(lu9T, lu9Lightblue, lu9Green, lu9Orange, lu9Slate, lu9Violet)});

// Row 3
panel({r:2, c:0, rightTitle:'fraction.dir',
  left:{domain:[-0.12,3.12], ticks:corrTicks, labels:corrLabels},
  right:{domain:[-0.04,1.04], ticks:fdirTicks, labels:fdirLabels},
  series:[
    {data:pts(fdT, fdViolet), color:COL.violet, axis:'right'}, {data:pts(fdT, fdSlate), color:COL.slate, axis:'right'},
    {data:pts(fdT, fdLightblue), color:COL.lightblue, axis:'right'}, {data:pts(fdT, fdGreen), color:COL.green, axis:'right'},
    {data:pts(fdT, fdOrange), color:COL.orange, axis:'right'}, {data:pts(fdT, fdRed), color:COL.red3, axis:'right'},
    {data:pts(escorrT, escorrV), color:'#000'}],
  legend:[{label:'ES.correction', color:'#000'}]});
panel({r:2, c:1, title:'ED4 uW/cm^2/nm',
  left:{domain:[-1.2,31.2], ticks:ed4bTicks, labels:ed4bLabels, grid:ed4bTicks},
  series:[{data:pts(ed4bCoralT, ed4bCoralV), color:COL.coral}, {data:pts(ed4bRedT, ed4bRedV), color:COL.red3}]});
panel({r:2, c:2, title:'EU4 uW/cm^2/nm',
  left:{domain:[-0.02,0.52], ticks:eu4bTicks, labels:eu4bLabels, grid:eu4bTicks},
  series:[{data:pts(eu4bT, eu4bCoral), color:COL.coral}, {data:pts(eu4bTailT, eu4bTailV), color:COL.coral},
    {data:pts(eu4bT, eu4bRed), color:COL.red3}]});
panel({r:2, c:3, title:'LU4 uW/cm^2/nm/sr',
  left:{domain:[-0.004,0.104], ticks:lu4bTicks, labels:lu4bLabels, grid:lu4bTicks},
  series:[{data:pts(lu4bT, lu4bCoral), color:COL.coral}, {data:pts(lu4bT, lu4bRed), color:COL.red3}]});

// Row 4
panel({r:3, c:0,
  left:{domain:[-14.4,374.4], ticks:headTicks, labels:headLabels},
  right:{domain:[-21.8,33.2], ticks:tiltTicks, labels:tiltLabels, color:COL.red},
  green:{domain:[11.7,93.4], ticks:zenTicks, labels:zenLabels},
  series:[
    {data:pts(tiltyT, tiltyV), color:COL.red, axis:'right', dash:DASH},
    {data:pts(tiltxT, tiltxV), color:COL.red, axis:'right'},
    {data:pts(sunphiT, sunphiV), color:'#000', dash:DASH},
    {data:pts(headingT, headingV), color:'#000'},
    {data:pts(sunzenT, sunzenV), color:COL.green3, axis:'green'}],
  legend:[{label:'HEADING Degrees', color:'#000'}, {label:'SUNPHI degree', color:'#000', dash:DASH},
    {label:'TILTX Degrees', color:COL.red}, {label:'TILTY Degrees', color:COL.red, dash:DASH},
    {label:'SUNZEN degree', color:COL.green3}]});
panel({r:3, c:1, title:'ED9 uW/cm^2/nm',
  left:{domain:[-0.12,3.12], ticks:ed9bTicks, labels:ed9bLabels, grid:ed9bTicks},
  series:[{data:pts(ed9bT, ed9bCoral), color:COL.coral}, {data:pts(ed9bT, ed9bRed), color:COL.red3}]});
panel({r:3, c:2, title:'EU9 uW/cm^2/nm',
  left:{domain:[-0.002,0.052], ticks:eu9bTicks, labels:eu9bLabels, grid:eu9bTicks},
  series:[{data:pts(eu9bCoralT, eu9bCoralV), color:COL.coral}, {data:pts(eu9bRedT, eu9bRedV), color:COL.red3}]});
panel({r:3, c:3, title:'LU9 uW/cm^2/nm/sr',
  left:{domain:[-0.0004,0.0104], ticks:lu9bTicks, labels:lu9bLabels, grid:lu9bTicks},
  series:[{data:pts(lu9bRedT, lu9bRedV), color:COL.red3}, {data:pts(lu9bCoralT, lu9bCoralV), color:COL.coral}]});

// Row 5
panel({r:4, c:0,
  left:{domain:[0.0079,4.2], log:true, ticks:transTicks, labels:transLabels},
  right:{domain:[-0.0004,0.0104], ticks:bbTicks, labels:bbLabels, color:COL.red},
  series:[{data:pts(trans9T, trans9V), color:'#000', dash:DASH},
    {data:pts(bb442T, bb442V), color:COL.red, axis:'right'},
    {data:pts(bb555T, bb555V), color:COL.red, axis:'right', dash:DASH}],
  legend:[{label:'TRANS.4m c', color:'#000'}, {label:'TRANS.9m c', color:'#000', dash:DASH},
    {label:'BB.442', color:COL.red}, {label:'BB.555', color:COL.red, dash:DASH}]});
panel({r:4, c:1,
  left:{domain:[0.077,74], log:true, ticks:fluorTicks, labels:fluorLabels},
  right:{domain:[0.077,74], log:true, ticks:fluorTicks, labels:fluorLabels, color:COL.red},
  series:[],
  legend:[{label:'FLUOR.4m ug/l', color:'#000'}, {label:'FLUOR.9m ug/l', color:COL.red}]});
panel({r:4, c:2,
  left:{domain:[9.2,30.8], ticks:tempTicks, labels:tempLabels},
  right:{domain:[36.92,39.08], ticks:salTicks, labels:salLabels, color:COL.red},
  series:[{data:pts(tempT, tempV), color:'#000'}, {data:pts(salT, salV), color:COL.red, axis:'right'}],
  legend:[{label:'TEMP Degrees', color:'#000'}, {label:'meteo.Tsea', color:'#000', dash:DASH},
    {label:'meteo.Tair', color:'#000', dash:'2,6'}, {label:'SALINITY S', color:COL.red}]});
panel({r:4, c:3,
  left:{domain:[-1.2,30.9], ticks:tangTicks, labels:tangLabels},
  right:{domain:[-8,205], ticks:dphiTicks, labels:dphiLabels, color:COL.red},
  series:[{data:pts(tangT, tangV), color:'#000'}, {data:pts(dphiT, dphiV), color:COL.red, axis:'right'}],
  legend:[{label:'TANGENT Degrees', color:'#000'}, {label:'DPHI degree', color:COL.red}]});

// Row 6
panel({r:5, c:0,
  left:{domain:[4.4,20.6], ticks:depthTicks, labels:depthLabels},
  right:{domain:[19400,35600], ticks:strainTicks, labels:strainLabels, color:COL.red},
  green:{domain:[8.76,15.24], ticks:vsTicks, labels:vsLabels},
  series:[{data:pts(depth2T, depth2V), color:'#000', dash:DASH}, {data:pts(depthT, depthV), color:'#000'},
    {data:pts(vsT, vsV), color:COL.green3, axis:'green'}],
  legend:[{label:'DEPTH.CTD Meters', color:'#000'}, {label:'STRAIN Newtons', color:COL.red},
    {label:'VS Volts', color:COL.green3}]});
panel({r:5, c:1,
  left:{domain:[967.2,1042.8], ticks:presTicks, labels:presLabels},
  right:{domain:[-4,104], ticks:rhTicks, labels:rhLabels, color:COL.red},
  series:[], legend:[{label:'meteo.AtmPres', color:'#000'}, {label:'meteo.RH', color:COL.red}]});
panel({r:5, c:2,
  left:{domain:[-1.6,41.6], ticks:windTicks, labels:windLabels},
  right:{domain:[-14.4,374.4], ticks:wdirTicks, labels:wdirLabels, color:COL.red},
  series:[], legend:[{label:'meteo.WindSpeed', color:'#000'}, {label:'meteo.Gust', color:'#000', dash:DASH},
    {label:'meteo.WindDir', color:COL.red}]});
panel({r:5, c:3,
  left:{domain:[-0.32,8.32], ticks:waveTicks, labels:waveLabels},
  right:{domain:[-1.2,31.2], ticks:perTicks, labels:perLabels, color:COL.red},
  series:[], legend:[{label:'meteo.WaveHeight', color:'#000'}, {label:'meteo.WavePeriod', color:COL.red}]});

// Row 7
svg.append('text').attr('x', 209).attr('y', rowY(6) + PH/2).attr('dy', '0.35em').attr('text-anchor', 'middle')
  .style('font-size', '21px').text('No Chlorophyll image');
panel({r:6, c:1, wl:true, title:'Kd',
  left:{domain:[0.000785,0.64], log:true, ticks:kdTicks, labels:kdLabels, grid:[0.001,0.01,0.1]},
  series:[], boxLegend:true});
panel({r:6, c:2, wl:true, title:'R9',
  left:{domain:[0.00083,0.119], log:true, ticks:r9Ticks, labels:r9Labels, grid:[0.001,0.01,0.1]},
  series:[{data:pts(wlBands, r9Red), color:COL.red, w:2.6}, {data:pts(wlBands, r9Green), color:COL.green3, w:2.6},
    {data:pts(wlBands, r9Blue), color:COL.blue, w:2.6}, {data:pts(wlBands, r9Dots), color:COL.red, dots:true, dotsOnly:true}],
  boxLegend:true});
panel({r:6, c:3, wl:true, title:'nLw9',
  left:{domain:[0.00075,2.74], log:true, ticks:nlwTicks, labels:nlwLabels, grid:decadeGrid},
  series:[{data:pts(wlBands, nlwRed), color:COL.red, w:2.6}, {data:pts(wlBands, nlwGreen), color:COL.green3, w:2.6},
    {data:pts(wlBands, nlwBlue), color:COL.blue, w:2.6}, {data:pts(wlBands, nlwDots), color:COL.red, dots:true, dotsOnly:true}],
  boxLegend:true});
</script>
</body></html>
